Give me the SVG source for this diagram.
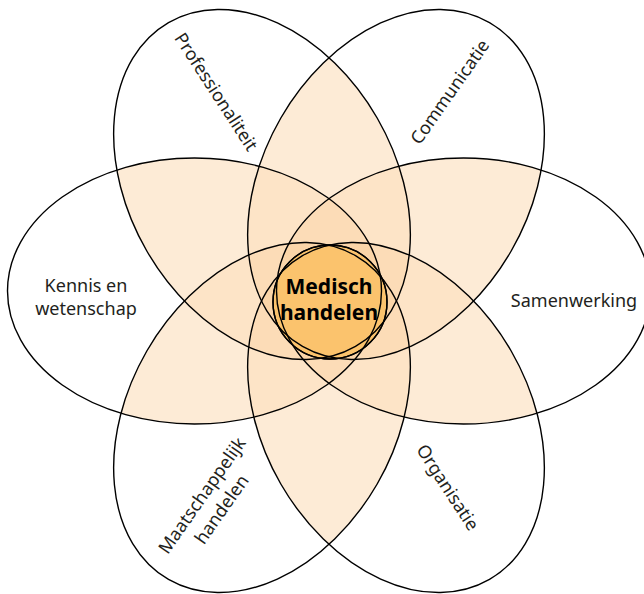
<svg xmlns="http://www.w3.org/2000/svg" xmlns:xlink="http://www.w3.org/1999/xlink" width="644" height="594" viewBox="0 0 644 594">
<style>
.shade use { fill:#000; fill-opacity:0.24; stroke:none; }
.outline { fill:none; stroke:#000; stroke-width:1.4; }
.lbl { font-family:"Noto Sans","Open Sans","Liberation Sans",sans-serif; font-size:18px; fill:#231f20; text-anchor:middle; }
.core { font-family:"Noto Sans","Open Sans","Liberation Sans",sans-serif; font-size:21px; font-weight:bold; fill:#000; text-anchor:middle; }
.corefill { fill:#FBC36D; stroke:#000; stroke-width:1.4; }
</style>
<defs>
  <ellipse id="e-kennis" cx="194.5" cy="291" rx="187" ry="133"/>
  <ellipse id="e-samen" cx="463.5" cy="291" rx="187" ry="133"/>
  <ellipse id="e-prof" cx="262" cy="184.5" rx="187" ry="133" transform="rotate(60 262 184.5)"/>
  <ellipse id="e-comm" cx="396" cy="184.5" rx="187" ry="133" transform="rotate(-60 396 184.5)"/>
  <ellipse id="e-maat" cx="262" cy="417.5" rx="187" ry="133" transform="rotate(-60 262 417.5)"/>
  <ellipse id="e-org" cx="396" cy="417.5" rx="187" ry="133" transform="rotate(60 396 417.5)"/>
  <filter id="levels" filterUnits="userSpaceOnUse" x="0" y="0" width="644" height="594" color-interpolation-filters="sRGB">
    <feComponentTransfer in="SourceAlpha" result="lv">
      <feFuncA type="discrete" tableValues="0 0 0 0.1 0.21 0.29 0.37 0.45 0.45 0.45"/>
    </feComponentTransfer>
    <feFlood flood-color="#F7A03C" result="tint"/>
    <feComposite in="tint" in2="lv" operator="in"/>
  </filter>
</defs>
<rect width="644" height="594" fill="#fff"/>
<g id="overlap-shading" class="shade" filter="url(#levels)">
  <use xlink:href="#e-kennis" href="#e-kennis"/>
  <use xlink:href="#e-samen" href="#e-samen"/>
  <use xlink:href="#e-prof" href="#e-prof"/>
  <use xlink:href="#e-comm" href="#e-comm"/>
  <use xlink:href="#e-maat" href="#e-maat"/>
  <use xlink:href="#e-org" href="#e-org"/>
</g>
<g id="node-medisch-handelen">
  <circle class="corefill" cx="330" cy="302" r="57"/>
</g>
<g id="connectors"></g>
<g id="node-professionaliteit">
  <use class="outline" xlink:href="#e-prof" href="#e-prof"/>
  <text class="lbl" transform="translate(216 92) rotate(57)" y="6">Professionaliteit</text>
</g>
<g id="node-communicatie">
  <use class="outline" xlink:href="#e-comm" href="#e-comm"/>
  <text class="lbl" transform="translate(450 92) rotate(-55)" y="6">Communicatie</text>
</g>
<g id="node-kennis-en-wetenschap">
  <use class="outline" xlink:href="#e-kennis" href="#e-kennis"/>
  <text class="lbl" x="86" y="292"><tspan x="86" y="292">Kennis en</tspan><tspan x="86" y="315">wetenschap</tspan></text>
</g>
<g id="node-samenwerking">
  <use class="outline" xlink:href="#e-samen" href="#e-samen"/>
  <text class="lbl" x="574" y="307">Samenwerking</text>
</g>
<g id="node-maatschappelijk-handelen">
  <use class="outline" xlink:href="#e-maat" href="#e-maat"/>
  <text class="lbl" transform="translate(212 502.5) rotate(-55)"><tspan x="0" y="-6">Maatschappelijk</tspan><tspan x="0" y="18">handelen</tspan></text>
</g>
<g id="node-organisatie">
  <use class="outline" xlink:href="#e-org" href="#e-org"/>
  <text class="lbl" transform="translate(447.5 487.5) rotate(57)" y="6">Organisatie</text>
</g>
<g id="node-medisch-handelen-label">
  <circle cx="330" cy="302" r="57" fill="none" stroke="#000" stroke-width="1.4"/>
  <text class="core"><tspan x="329" y="294">Medisch</tspan><tspan x="329" y="320">handelen</tspan></text>
</g>
</svg>
